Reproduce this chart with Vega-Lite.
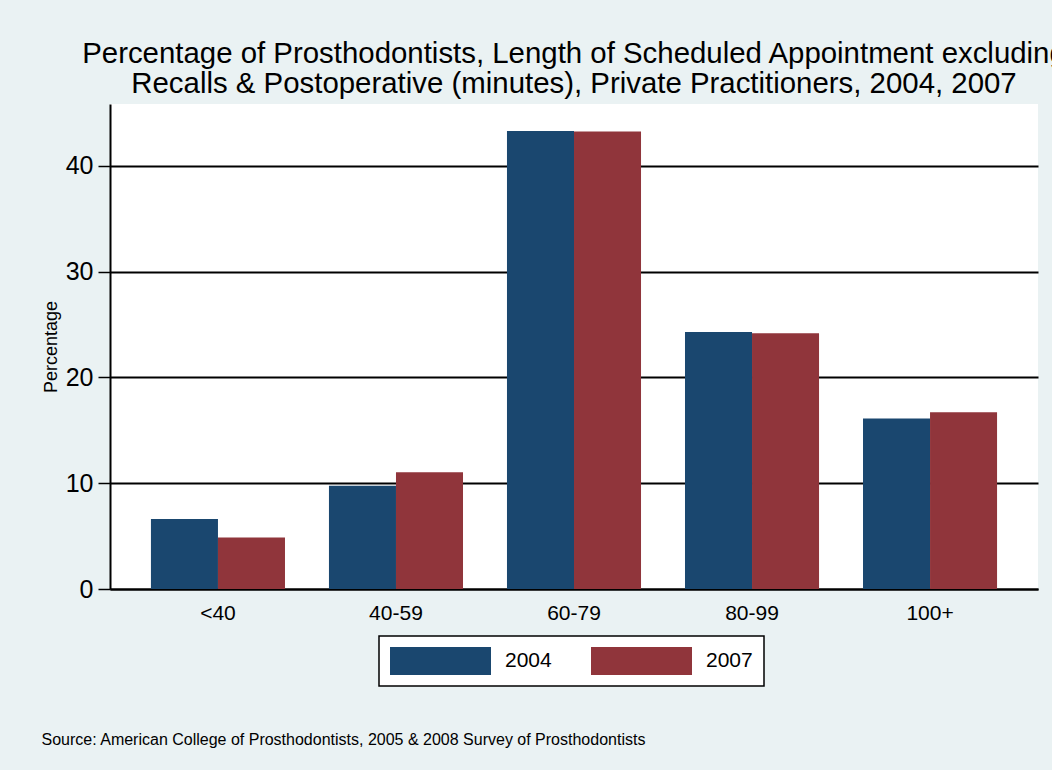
{
  "$schema": "https://vega.github.io/schema/vega-lite/v6.json",
  "autosize": "none",
  "width": 928,
  "height": 485,
  "padding": {"left": 110, "top": 104, "right": 14, "bottom": 181},
  "background": "#EAF2F3",
  "config": {
    "font": "Liberation Sans",
    "view": {"fill": "white", "stroke": null}
  },
  "title": {
    "text": ["Percentage of Prosthodontists, Length of Scheduled Appointment excluding", "Recalls & Postoperative (minutes), Private Practitioners, 2004, 2007"],
    "anchor": "middle",
    "frame": "group",
    "fontSize": 29.4,
    "fontWeight": "normal",
    "color": "black",
    "lineHeight": 30,
    "offset": 5
  },
  "data": {
    "values": [
      {"cat": "<40", "year": "2004", "pct": 6.62},
      {"cat": "<40", "year": "2007", "pct": 4.88},
      {"cat": "40-59", "year": "2004", "pct": 9.77},
      {"cat": "40-59", "year": "2007", "pct": 11.04},
      {"cat": "60-79", "year": "2004", "pct": 43.31},
      {"cat": "60-79", "year": "2007", "pct": 43.25},
      {"cat": "80-99", "year": "2004", "pct": 24.3},
      {"cat": "80-99", "year": "2007", "pct": 24.18},
      {"cat": "100+", "year": "2004", "pct": 16.12},
      {"cat": "100+", "year": "2007", "pct": 16.72}
    ]
  },
  "mark": {"type": "bar"},
  "encoding": {
    "x": {
      "field": "cat",
      "type": "nominal",
      "sort": ["<40", "40-59", "60-79", "80-99", "100+"],
      "scale": {"paddingInner": 0.247, "paddingOuter": 0.23},
      "axis": {
        "title": "Source: American College of Prosthodontists, 2005 & 2008 Survey of Prosthodontists",
        "titleAnchor": "start",
        "titleAlign": "left",
        "titleBaseline": "middle",
        "titleX": -69,
        "titleY": 150,
        "titleFontSize": 16,
        "titleFontWeight": "normal",
        "titleColor": "black",
        "labelAngle": 0,
        "labelFontSize": 21,
        "labelColor": "black",
        "labelPadding": 13,
        "ticks": false,
        "domain": true,
        "domainColor": "black",
        "domainWidth": 2,
        "grid": false
      }
    },
    "xOffset": {
      "field": "year",
      "type": "nominal",
      "scale": {"paddingInner": 0, "paddingOuter": 0}
    },
    "y": {
      "field": "pct",
      "type": "quantitative",
      "scale": {"domain": [0, 45.86], "nice": false, "zero": true},
      "axis": {
        "title": "Percentage",
        "titleFontSize": 18,
        "titleFontWeight": "normal",
        "titleColor": "black",
        "titlePadding": 5,
        "values": [0, 10, 20, 30, 40],
        "labelFontSize": 25,
        "labelColor": "black",
        "labelPadding": 5,
        "tickSize": 12,
        "tickColor": "black",
        "tickWidth": 1.5,
        "domain": true,
        "domainColor": "black",
        "domainWidth": 2,
        "grid": true,
        "gridColor": "black",
        "gridWidth": 2,
        "gridOpacity": 1
      }
    },
    "color": {
      "field": "year",
      "type": "nominal",
      "scale": {"domain": ["2004", "2007"], "range": ["#1A476F", "#90353B"]},
      "legend": {
        "title": null,
        "orient": "none",
        "legendX": 269,
        "legendY": 532,
        "direction": "horizontal",
        "columns": 2,
        "fillColor": "white",
        "strokeColor": "black",
        "padding": 11,
        "symbolType": "M-1,-0.2772H1V0.2772H-1Z",
        "symbolSize": 10201,
        "symbolStrokeWidth": 0,
        "symbolOpacity": 1,
        "clipHeight": 28,
        "labelFontSize": 21,
        "labelColor": "black",
        "labelOffset": 14,
        "columnPadding": 39,
        "encode": {"legend": {"update": {"strokeWidth": {"value": 1.5}}}}
      }
    }
  }
}
